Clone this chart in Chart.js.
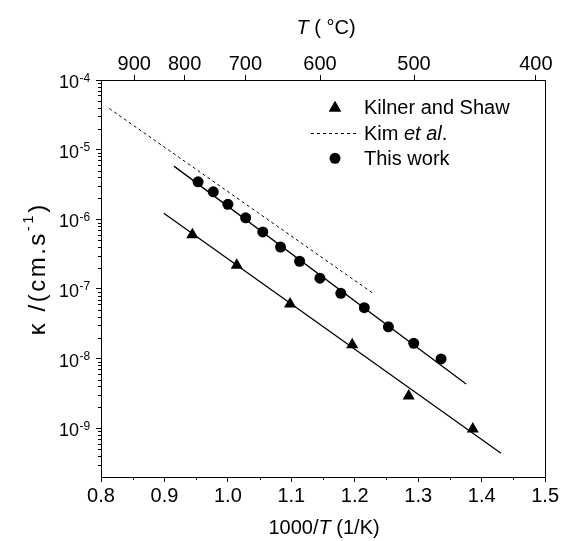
<!DOCTYPE html>
<html><head><meta charset="utf-8">
<script src="https://cdn.jsdelivr.net/npm/chart.js@4.4.1/dist/chart.umd.min.js"></script>
<style>html,body{margin:0;padding:0;background:#fff}#wrap{width:563px;height:541px}</style>
</head><body><div id="wrap"><canvas id="c" width="563" height="541"></canvas></div>
<script>
// ---- data ----
const kilnerX = [0.944, 1.014, 1.098, 1.196, 1.285, 1.386];
const kilnerY = [6.0e-7, 2.2e-7, 6.1e-8, 1.58e-8, 2.9e-9, 9.8e-10];
const thisWorkX = [0.953, 0.977, 1.000, 1.028, 1.055, 1.083, 1.113, 1.145, 1.178, 1.215, 1.253, 1.293, 1.336];
const thisWorkY = [3.45e-6, 2.48e-6, 1.64e-6, 1.05e-6, 6.6e-7, 4.0e-7, 2.5e-7, 1.43e-7, 8.65e-8, 5.4e-8, 2.86e-8, 1.66e-8, 9.9e-9];
const kimLineX = [0.813, 1.229];
const kimLineY = [3.9e-5, 8.65e-8];
const thisFitX = [0.915, 1.3755];
const thisFitY = [5.8e-6, 4.33e-9];
const kilnerFitX = [0.899, 1.4305];
const kilnerFitY = [1.22e-6, 4.38e-10];
const topTickLabels = [900, 800, 700, 600, 500, 400];
const yDecadeExp = [-4, -5, -6, -7, -8, -9];
const legendLabels = ['Kilner and Shaw', 'Kim ', 'et al', '.', 'This work'];

const FONT = '"Liberation Sans", Arial, sans-serif';
const pts = (xs, ys) => xs.map((x, i) => ({x: x, y: ys[i]}));

const extras = {
  id: 'extras',
  afterDraw(chart) {
    const ctx = chart.ctx;
    const xs = chart.scales.x, ys = chart.scales.y;
    const a = chart.chartArea;
    ctx.save();
    ctx.strokeStyle = '#000';
    ctx.fillStyle = '#000';
    ctx.lineWidth = 1;
    // right border
    ctx.beginPath();
    ctx.moveTo(Math.round(a.right) + 0.5, a.top);
    ctx.lineTo(Math.round(a.right) + 0.5, a.bottom + 0.5);
    ctx.stroke();
    // minor y ticks
    ctx.beginPath();
    for (let k = -10; k <= -5; k++) {
      for (let m = 2; m <= 9; m++) {
        const v = m * Math.pow(10, k);
        if (v <= ys.min * 1.0001 || v >= ys.max) continue;
        const py = Math.round(ys.getPixelForValue(v)) + 0.5;
        ctx.moveTo(Math.round(a.left) - 3, py);
        ctx.lineTo(Math.round(a.left), py);
      }
    }
    // minor x ticks
    for (let i = 0; i < 7; i++) {
      const v = 0.85 + i * 0.1;
      const px = Math.round(xs.getPixelForValue(v)) + 0.5;
      ctx.moveTo(px, Math.round(a.bottom));
      ctx.lineTo(px, Math.round(a.bottom) + 3);
    }
    ctx.stroke();
    // y tick labels with superscripts
    yDecadeExp.forEach(e => {
      const py = ys.getPixelForValue(Math.pow(10, e));
      ctx.font = '18px ' + FONT;
      ctx.textAlign = 'right';
      ctx.textBaseline = 'alphabetic';
      ctx.fillText('10', 79, py + 8);
      ctx.font = '12px ' + FONT;
      ctx.textAlign = 'left';
      ctx.fillText('-' + Math.abs(e), 79.5, py + 1.5);
    });
    // mixed-style text helper
    function drawRuns(runs, cx, baseline, spacing) {
      spacing = spacing || 0;
      let total = 0;
      runs.forEach(r => { ctx.font = r.f; r.w = ctx.measureText(r.t).width + spacing * r.t.length; total += r.w; });
      total -= spacing;
      let x = cx - total / 2;
      ctx.textAlign = 'left';
      runs.forEach(r => {
        ctx.font = r.f;
        if (!spacing) { ctx.fillText(r.t, x, baseline + (r.dy || 0)); x += r.w; }
        else {
          for (const ch of r.t) { ctx.fillText(ch, x, baseline + (r.dy || 0)); x += ctx.measureText(ch).width + spacing; }
        }
      });
    }
    ctx.textBaseline = 'alphabetic';
    const N = '20px ' + FONT, I = 'italic 20px ' + FONT;
    // bottom title
    drawRuns([{t: '1000/', f: N}, {t: 'T', f: I}, {t: ' (1/K)', f: N}], (a.left + a.right) / 2 + 1, 534);
    // top title
    drawRuns([{t: 'T', f: I}, {t: ' ( \u00B0C)', f: N}], (a.left + a.right) / 2 + 3, 34);
    // y title rotated
    ctx.save();
    ctx.translate(45, 270);
    ctx.rotate(-Math.PI / 2);
    drawRuns([{t: '\u03BA /(cm.s', f: '24px ' + FONT}, {t: '-1', f: '15px ' + FONT, dy: -12}, {t: ')', f: '24px ' + FONT}], 0, 0, 2.5);
    ctx.restore();
    // legend
    const H = Chart.helpers;
    H.drawPoint(ctx, {pointStyle: 'triangle', radius: 7, borderWidth: 0}, 335, 108);
    ctx.fill();
    ctx.beginPath();
    ctx.arc(335, 158.3, 5.5, 0, Math.PI * 2);
    ctx.fill();
    ctx.beginPath();
    ctx.setLineDash([3, 3]);
    ctx.moveTo(311, 133.5);
    ctx.lineTo(357, 133.5);
    ctx.stroke();
    ctx.setLineDash([]);
    ctx.font = N;
    ctx.textAlign = 'left';
    ctx.fillText(legendLabels[0], 364, 114);
    let lx = 364;
    ctx.fillText(legendLabels[1], lx, 140); lx += ctx.measureText(legendLabels[1]).width;
    ctx.font = I; ctx.fillText(legendLabels[2], lx, 140); lx += ctx.measureText(legendLabels[2]).width;
    ctx.font = N; ctx.fillText(legendLabels[3], lx, 140);
    ctx.fillText(legendLabels[4], 364, 165);
    ctx.restore();
  }
};

const axisGrid = {display: true, drawOnChartArea: false, drawTicks: true, tickLength: 5, color: '#000', lineWidth: 1};
const axisBorder = {display: true, color: '#000', width: 1};

new Chart(document.getElementById('c'), {
  type: 'scatter',
  data: {
    datasets: [
      {label: 'Kilner and Shaw', data: pts(kilnerX, kilnerY), pointStyle: 'triangle', pointRadius: 7, backgroundColor: '#000', borderColor: '#000', borderWidth: 0, showLine: false},
      {label: 'This work', data: pts(thisWorkX, thisWorkY), pointStyle: 'circle', pointRadius: 5.5, backgroundColor: '#000', borderColor: '#000', borderWidth: 0, showLine: false},
      {label: 'Kim et al.', data: pts(kimLineX, kimLineY), showLine: true, pointRadius: 0, borderColor: '#000', borderWidth: 1, borderDash: [3, 3]},
      {label: 'fit this', data: pts(thisFitX, thisFitY), showLine: true, pointRadius: 0, borderColor: '#000', borderWidth: 1.3},
      {label: 'fit kilner', data: pts(kilnerFitX, kilnerFitY), showLine: true, pointRadius: 0, borderColor: '#000', borderWidth: 1.3}
    ]
  },
  options: {
    responsive: false,
    devicePixelRatio: 1,
    animation: false,
    events: [],
    layout: {padding: {left: 0, right: 14, top: 0, bottom: 0}},
    plugins: {legend: {display: false}, tooltip: {enabled: false}, title: {display: false}},
    scales: {
      x: {
        type: 'linear', position: 'bottom', min: 0.8, max: 1.5,
        grid: axisGrid, border: axisBorder,
        ticks: {stepSize: 0.1, autoSkip: false, maxRotation: 0, padding: 4, color: '#000',
          font: {family: FONT, size: 20, lineHeight: 1}, callback: v => v.toFixed(1)},
        afterFit: s => { s.height = 64; }
      },
      x2: {
        type: 'linear', position: 'top', min: 0.8, max: 1.5,
        grid: axisGrid, border: axisBorder,
        afterBuildTicks: s => { s.ticks = topTickLabels.map(T => ({value: 1000 / (T + 273.15)})); },
        ticks: {autoSkip: false, maxRotation: 0, padding: 1, color: '#000',
          font: {family: FONT, size: 20, lineHeight: 1}, callback: (v, i) => String(topTickLabels[i])},
        afterFit: s => { s.height = 80; }
      },
      y: {
        type: 'logarithmic', position: 'left', min: 2e-10, max: 1e-4,
        grid: axisGrid, border: axisBorder,
        afterBuildTicks: s => { s.ticks = yDecadeExp.map(e => ({value: Math.pow(10, e), major: true})); },
        ticks: {display: false, autoSkip: false},
        afterFit: s => { s.width = 101; }
      }
    }
  },
  plugins: [extras]
});
</script></body></html>
